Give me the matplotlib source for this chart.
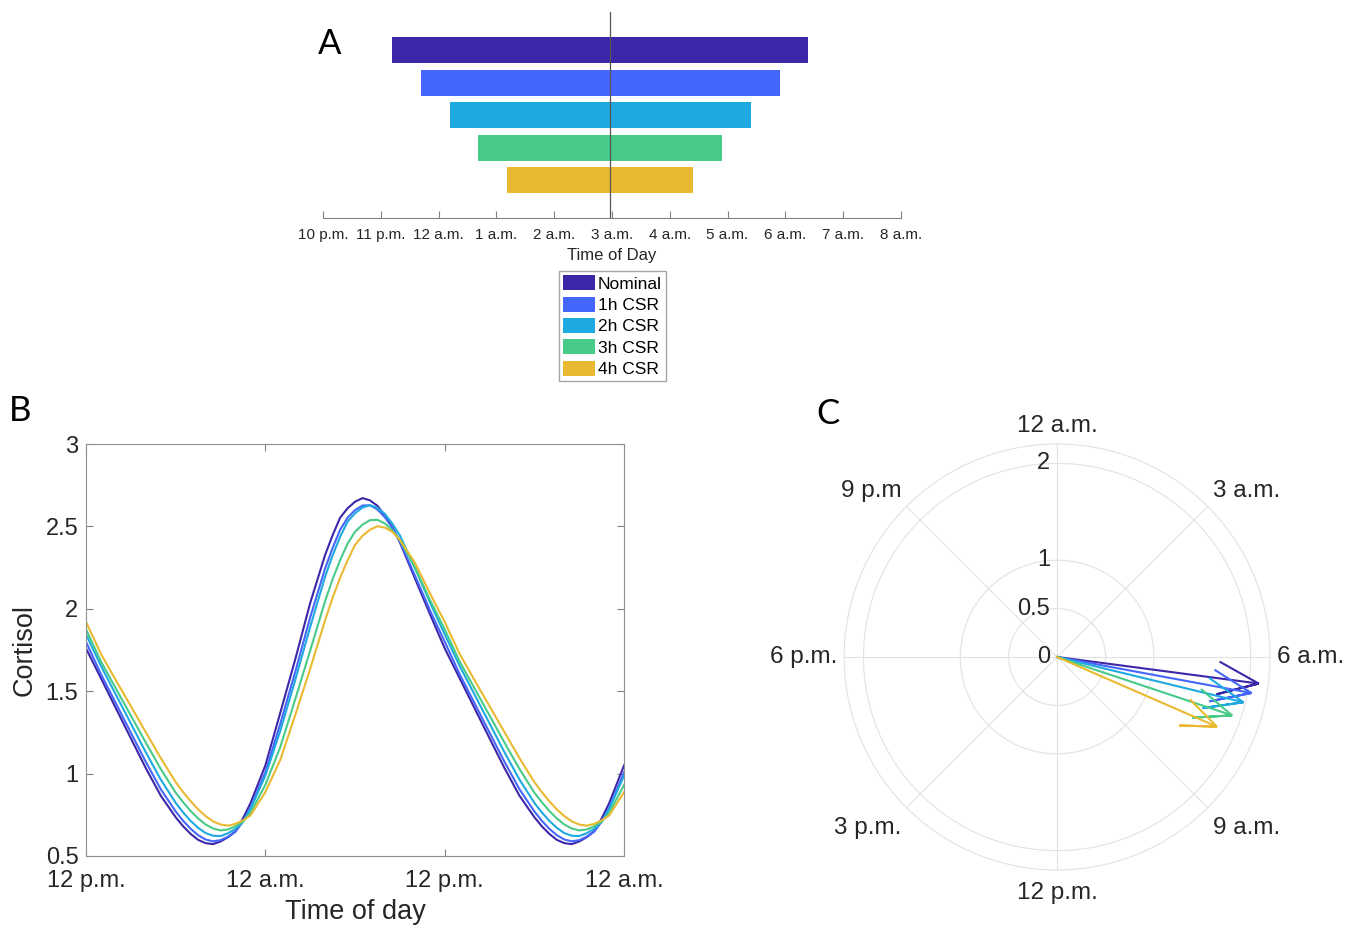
import matplotlib
matplotlib.use('Agg')
import matplotlib.pyplot as plt
from matplotlib.patches import Patch
import numpy as np

plt.rcParams['font.family'] = ['Liberation Sans', 'DejaVu Sans']

# ---- data ----
groups = ['Nominal', '1h CSR', '2h CSR', '3h CSR', '4h CSR']
colors = ['#3e26a8', '#4566fb', '#1eaae0', '#48cb88', '#e9b931']

# panel A: sleep window, hours relative to midnight
sleep_start = [-0.81, -0.31, 0.19, 0.69, 1.19]
sleep_end = [6.40, 5.90, 5.40, 4.90, 4.40]
mid_line = 2.97
a_ticks = [-2, -1, 0, 1, 2, 3, 4, 5, 6, 7, 8]
a_labels = ['10 p.m.', '11 p.m.', '12 a.m.', '1 a.m.', '2 a.m.', '3 a.m.',
            '4 a.m.', '5 a.m.', '6 a.m.', '7 a.m.', '8 a.m.']

# panel B: cortisol, h=12 is 12 p.m., h=48 is the second midnight
hours = [12, 13, 14, 15, 16, 17,
         18, 18.5, 19, 19.5, 20, 20.5, 21, 21.5, 22, 22.5, 23,
         24, 25, 26, 27,
         28, 28.5, 29, 29.5, 30, 30.5, 31, 31.5, 32, 32.5, 33,
         34, 35, 36, 37, 38, 39, 40, 41,
         42, 42.5, 43, 43.5, 44, 44.5, 45, 45.5, 46, 46.5, 47,
         48]
cort_nominal = [1.760, 1.578, 1.396, 1.214, 1.033, 0.866,
                0.735, 0.680, 0.634, 0.598, 0.578, 0.572, 0.588, 0.614, 0.650, 0.728, 0.820,
                1.050, 1.370, 1.694, 2.036,
                2.328, 2.447, 2.553, 2.610, 2.650, 2.672, 2.658, 2.625, 2.565, 2.495, 2.403,
                2.186, 1.970, 1.760, 1.578, 1.396, 1.214, 1.033, 0.866,
                0.735, 0.680, 0.634, 0.598, 0.578, 0.572, 0.588, 0.614, 0.650, 0.728, 0.820,
                1.050]
cort_1h = [1.800, 1.603, 1.426, 1.248, 1.071, 0.905,
           0.770, 0.713, 0.665, 0.626, 0.600, 0.589, 0.596, 0.617, 0.648, 0.708, 0.792,
           1.008, 1.303, 1.618, 1.949,
           2.246, 2.370, 2.479, 2.553, 2.599, 2.627, 2.628, 2.603, 2.555, 2.490, 2.409,
           2.203, 1.993, 1.800, 1.603, 1.426, 1.248, 1.071, 0.905,
           0.770, 0.713, 0.665, 0.626, 0.600, 0.589, 0.596, 0.617, 0.648, 0.708, 0.792,
           1.008]
cort_2h = [1.845, 1.653, 1.478, 1.304, 1.129, 0.964,
           0.822, 0.764, 0.713, 0.671, 0.639, 0.623, 0.621, 0.638, 0.665, 0.708, 0.785,
           0.988, 1.261, 1.569, 1.891,
           2.196, 2.325, 2.437, 2.529, 2.580, 2.615, 2.629, 2.612, 2.575, 2.516, 2.445,
           2.249, 2.041, 1.845, 1.653, 1.478, 1.304, 1.129, 0.964,
           0.822, 0.764, 0.713, 0.671, 0.639, 0.623, 0.621, 0.638, 0.665, 0.708, 0.785,
           0.988]
cort_3h = [1.875, 1.680, 1.516, 1.352, 1.188, 1.028,
           0.884, 0.826, 0.773, 0.728, 0.691, 0.667, 0.655, 0.661, 0.680, 0.708, 0.761,
           0.932, 1.162, 1.452, 1.748,
           2.048, 2.180, 2.295, 2.396, 2.468, 2.511, 2.538, 2.540, 2.518, 2.475, 2.417,
           2.252, 2.056, 1.875, 1.680, 1.516, 1.352, 1.188, 1.028,
           0.884, 0.826, 0.773, 0.728, 0.691, 0.667, 0.655, 0.661, 0.680, 0.708, 0.761,
           0.932]
cort_4h = [1.920, 1.726, 1.566, 1.409, 1.251, 1.094,
           0.948, 0.887, 0.832, 0.783, 0.742, 0.710, 0.691, 0.684, 0.695, 0.716, 0.746,
           0.888, 1.084, 1.356, 1.636,
           1.932, 2.067, 2.189, 2.294, 2.388, 2.443, 2.480, 2.501, 2.493, 2.467, 2.418,
           2.280, 2.096, 1.920, 1.726, 1.566, 1.409, 1.251, 1.094,
           0.948, 0.887, 0.832, 0.783, 0.742, 0.710, 0.691, 0.684, 0.695, 0.716, 0.746,
           0.888]
b_ticks = [12, 24, 36, 48]
b_labels = ['12 p.m.', '12 a.m.', '12 p.m.', '12 a.m.']

# panel C: peak time (hours after midnight) and peak-to-trough amplitude
peak_hour = [6.50, 6.70, 6.91, 7.23, 7.57]
amplitude = [2.10, 2.04, 1.98, 1.905, 1.80]
c_angles = [0, 45, 90, 135, 180, 225, 270, 315]
c_labels = ['12 a.m.', '3 a.m.', '6 a.m.', '9 a.m.', '12 p.m.', '3 p.m.', '6 p.m.', '9 p.m']
r_ticks = [0, 0.5, 1, 2]
r_labels = ['0', '0.5', '1', '2']

txt = '#262626'

fig = plt.figure(figsize=(13.57, 9.27), dpi=100)

# ---------------- panel A ----------------
axA = fig.add_axes([0.2380, 0.7648, 0.4259, 0.2222])
ypos = np.arange(len(groups))
for i in range(len(groups)):
    axA.barh(ypos[i], sleep_end[i] - sleep_start[i], left=sleep_start[i],
             height=0.8, color=colors[i], edgecolor='none', zorder=2)
axA.axvline(mid_line, color='#555555', lw=0.9, zorder=3)
axA.set_xlim(-2, 8)
axA.set_ylim(len(groups) - 1 + 1.17, -1.17)
for s in ['left', 'top', 'right']:
    axA.spines[s].set_visible(False)
axA.spines['bottom'].set_color('#808080')
axA.set_yticks([])
axA.set_xticks(a_ticks)
axA.set_xticklabels(a_labels, fontsize=11, color=txt)
axA.tick_params(axis='x', direction='in', length=5, color='#808080', pad=7.5)
axA.set_xlabel('Time of Day', fontsize=12, color=txt, labelpad=4)

handles = [Patch(facecolor=c, edgecolor='none') for c in colors]
leg = fig.legend(handles, groups, loc='upper left',
                 bbox_to_anchor=(559 / 1357, 1 - 271 / 927), borderaxespad=0,
                 fontsize=12.5, frameon=True, fancybox=False, handlelength=1.8,
                 handleheight=0.95, handletextpad=0.2, labelspacing=0.28,
                 borderpad=0.25)
leg.get_frame().set_edgecolor('#909090')
leg.get_frame().set_linewidth(1.0)

# ---------------- panel B ----------------
axB = fig.add_axes([0.0634, 0.0766, 0.3965, 0.4444])
series = [cort_nominal, cort_1h, cort_2h, cort_3h, cort_4h]
for vals, c in zip(series, colors):
    axB.plot(hours, vals, color=c, lw=1.5, solid_joinstyle='round')
axB.set_xlim(12, 48)
axB.set_ylim(0.5, 3)
axB.set_xticks(b_ticks)
axB.set_xticklabels(b_labels)
axB.set_yticks([0.5, 1, 1.5, 2, 2.5, 3])
axB.set_yticklabels(['0.5', '1', '1.5', '2', '2.5', '3'])
axB.tick_params(direction='in', length=5, color='#808080', labelsize=17,
                labelcolor=txt, top=True, right=True)
axB.tick_params(axis='x', pad=10)
axB.tick_params(axis='y', pad=5.5)
for s in axB.spines.values():
    s.set_color('#909090')
axB.set_xlabel('Time of day', fontsize=19.5, color=txt, labelpad=5)
axB.set_ylabel('Cortisol', fontsize=19.5, color=txt, labelpad=6)

# ---------------- panel C ----------------
axC = fig.add_axes([0.622, 0.0615, 0.314, 0.4595], projection='polar')
axC.set_theta_zero_location('N')
axC.set_theta_direction(-1)
axC.set_rlim(0, 2.2)
axC.set_rgrids([0.5, 1, 2], labels=['', '', ''])
axC.set_thetagrids(c_angles, labels=[''] * len(c_angles))
axC.grid(color='#e2e2e2', lw=0.8)
axC.spines['polar'].set_color('#e2e2e2')
axC.spines['polar'].set_linewidth(0.8)
for r, lab in zip(r_ticks, r_labels):
    axC.annotate(lab, xy=(0, r), xytext=(-5, 0), textcoords='offset points',
                 ha='right', va='center', fontsize=17, color=txt)

# angle labels sit just outside the rim, aligned away from the centre
for ang, lab in zip(c_angles, c_labels):
    dx, dy = np.sin(np.radians(ang)), np.cos(np.radians(ang))
    ha = 'left' if dx > 0.1 else ('right' if dx < -0.1 else 'center')
    va = 'bottom' if dy > 0.1 else ('top' if dy < -0.1 else 'center')
    oy = 5 * dy - (3.5 if dy < -0.1 else 0)
    axC.annotate(lab, xy=(np.radians(ang), 2.2), xytext=(5 * dx, oy),
                 textcoords='offset points', ha=ha, va=va, fontsize=17.5,
                 color=txt, annotation_clip=False)

# compass arrows: shaft plus two barbs (0.8 back, 0.08 to the side)
head_r = np.hypot(0.8, 0.08)
head_a = np.arctan2(0.08, 0.8)
for ph, amp, c in zip(peak_hour, amplitude, colors):
    th = ph / 24 * 2 * np.pi
    thetas = [th, th, th + head_a, th, th - head_a]
    rs = [0, amp, amp * head_r, amp, amp * head_r]
    axC.plot(thetas, rs, color=c, lw=1.5, solid_joinstyle='miter')

# panel letters
fig.text(330 / 1357, 1 - 44 / 927, 'A', fontsize=25, family='Lato', ha='center', va='center')
fig.text(20 / 1357, 1 - 411 / 927, 'B', fontsize=25, family='Lato', ha='center', va='center')
fig.text(828 / 1357, 1 - 414 / 927, 'C', fontsize=25, family='Lato', ha='center', va='center')

fig.savefig('out.png', dpi=100)
